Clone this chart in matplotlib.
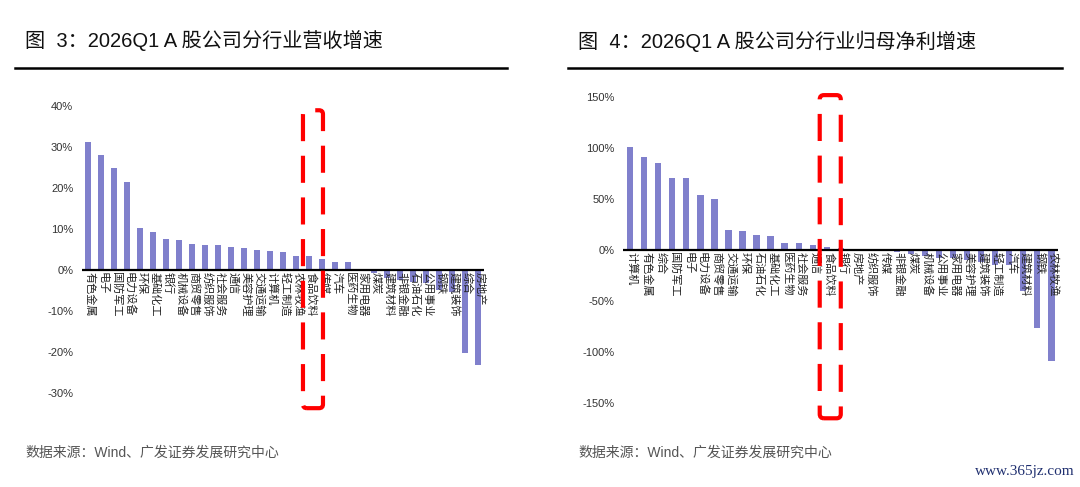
import matplotlib
matplotlib.use('Agg')
import matplotlib.pyplot as plt
from matplotlib.patches import FancyBboxPatch
from matplotlib.ticker import FuncFormatter

plt.rcParams['font.family'] = ['Liberation Sans', 'Noto Sans CJK SC', 'DejaVu Sans']

# Figure 3: revenue growth by industry (%)
rev_inds = ['有色金属', '电子', '国防军工', '电力设备', '环保', '基础化工', '银行', '机械设备',
            '商贸零售', '纺织服饰', '社会服务', '通信', '美容护理', '交通运输', '计算机', '轻工制造',
            '农林牧渔', '食品饮料', '传媒', '汽车', '医药生物', '家用电器', '煤炭', '建筑材料',
            '非银金融', '石油石化', '公用事业', '钢铁', '建筑装饰', '综合', '房地产']
rev_vals = [31.3, 28.2, 25.0, 21.5, 10.2, 9.2, 7.5, 7.4,
            6.4, 6.1, 6.0, 5.7, 5.3, 5.0, 4.6, 4.5,
            3.4, 3.4, 2.6, 2.0, 2.0, 0.1, -0.6, -2.0,
            -2.4, -2.8, -3.2, -4.9, -5.3, -20.3, -23.2]

# Figure 4: net profit attributable to parent growth by industry (%)
np_inds = ['计算机', '有色金属', '综合', '国防军工', '电子', '电力设备', '商贸零售', '交通运输',
           '环保', '石油石化', '基础化工', '医药生物', '社会服务', '通信', '食品饮料', '银行',
           '房地产', '纺织服饰', '传媒', '非银金融', '煤炭', '机械设备', '公用事业', '家用电器',
           '美容护理', '建筑装饰', '轻工制造', '汽车', '建筑材料', '钢铁', '农林牧渔']
np_vals = [100.7, 90.9, 85.6, 70.9, 70.6, 53.6, 49.7, 19.3,
           18.6, 14.4, 13.7, 7.2, 6.5, 4.9, 3.3, 2.0,
           -0.4, -0.7, -1.0, -1.5, -3.9, -5.6, -7.5, -8.2,
           -9.8, -11.4, -14.7, -14.7, -40.0, -76.5, -109.0]

bar_color = '#8080CC'

fig = plt.figure(figsize=(10.8, 4.87), dpi=100)


def draw_panel(ax, inds, vals, ylim, step, hl, box_x, box_y):
    x = range(len(vals))
    ax.bar(x, vals, width=0.45, color=bar_color, zorder=2)
    ax.set_xlim(-0.5, len(vals) - 0.5)
    ax.set_ylim(*ylim)
    ax.set_yticks(range(ylim[0], ylim[1] + 1, step))
    ax.yaxis.set_major_formatter(FuncFormatter(lambda v, p: f'{v:.0f}%'))
    ax.tick_params(axis='y', length=0, labelsize=8, labelcolor='#333333', pad=6)
    ax.set_xticks([])
    for s in ax.spines.values():
        s.set_visible(False)
    ax.axhline(0, color='black', lw=1.6, zorder=3)
    off = (ylim[1] - ylim[0]) * 0.006
    for i, lab in enumerate(inds):
        ax.text(i + 0.15, -off, lab, rotation=-90, ha='center', va='top',
                fontsize=8, color='#222222', zorder=4,
                family=['Noto Sans CJK SC', 'DejaVu Sans'])
    # red dashed highlight box around the 食品饮料 column
    pos = ax.get_position()
    w_px = pos.width * fig.bbox.width
    h_px = pos.height * fig.bbox.height
    aspect = ((ylim[1] - ylim[0]) / h_px) / (len(vals) / w_px)
    box = FancyBboxPatch((hl + box_x[0], box_y[0]), box_x[1] - box_x[0], box_y[1] - box_y[0],
                         boxstyle='round,pad=0,rounding_size=0.3', fill=False,
                         edgecolor='#FF0000', lw=3, ls=(0, (6.5, 3.5)),
                         mutation_aspect=aspect, clip_on=False, zorder=5)
    ax.add_patch(box)


ax1 = fig.add_axes([0.0755, 0.193, 0.373, 0.589])
draw_panel(ax1, rev_inds, rev_vals, (-30, 40), 10, rev_inds.index('食品饮料'),
           (-0.46, 1.08), (-33.7, 39.0))

ax2 = fig.add_axes([0.577, 0.1725, 0.403, 0.628])
draw_panel(ax2, np_inds, np_vals, (-150, 150), 50, np_inds.index('食品饮料'),
           (-0.5, 1.0), (-165, 152))

# titles and rules
fig.text(25 / 1080, 1 - 41 / 487, '图  3：2026Q1 A 股公司分行业营收增速', fontsize=14.5,
         va='center', ha='left', color='#111111')
fig.text(578 / 1080, 1 - 41 / 487, '图  4：2026Q1 A 股公司分行业归母净利增速', fontsize=14.5,
         va='center', ha='left', color='#111111')
fig.add_artist(plt.Line2D([15 / 1080, 507 / 1080], [1 - 67.5 / 487] * 2, color='black', lw=1.8))
fig.add_artist(plt.Line2D([568 / 1080, 1062 / 1080], [1 - 67.5 / 487] * 2, color='black', lw=1.8))

# source notes
fig.text(25 / 1080, 1 - 453 / 487, '数据来源：Wind、广发证券发展研究中心', fontsize=10,
         va='center', ha='left', color='#555555')
fig.text(578 / 1080, 1 - 453 / 487, '数据来源：Wind、广发证券发展研究中心', fontsize=10,
         va='center', ha='left', color='#555555')
fig.text(1075 / 1080, 1 - 471 / 487, 'www.365jz.com', fontsize=11, va='center', ha='right',
         color='#1F2F6F', family='Liberation Serif')

fig.savefig('out.png', dpi=100)
